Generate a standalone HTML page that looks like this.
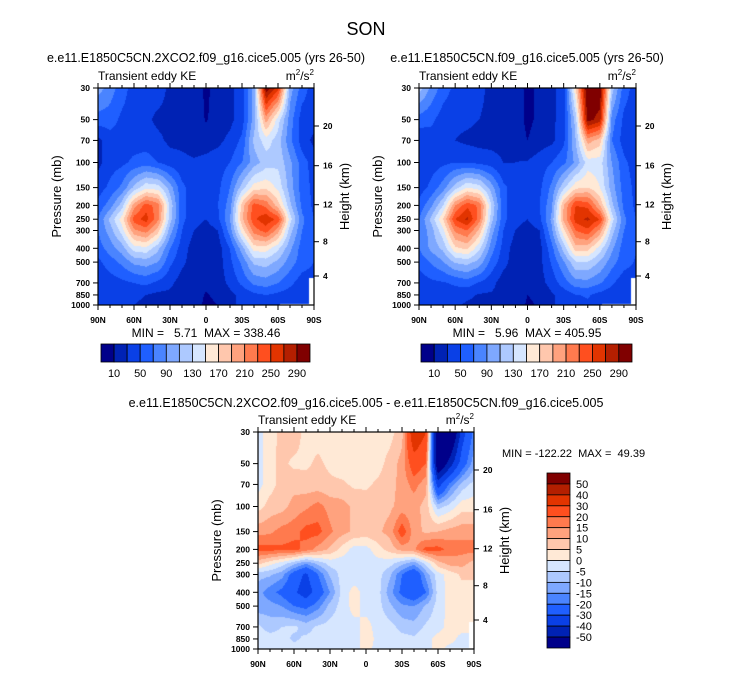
<!DOCTYPE html>
<html><head><meta charset="utf-8">
<style>
body{margin:0;background:#fff;}
#wrap{position:relative;width:733px;height:673px;overflow:hidden;background:#fff;font-family:"Liberation Sans",sans-serif;}
canvas{position:absolute;}
svg{position:absolute;left:0;top:0;}
svg text{white-space:pre;}
</style></head>
<body>
<div id="wrap">
<canvas id="c1" width="216" height="217" style="left:98px;top:88px"></canvas>
<canvas id="c2" width="217" height="217" style="left:419px;top:88px"></canvas>
<canvas id="c3" width="216" height="217" style="left:258px;top:432px"></canvas>
<svg id="ov" width="733" height="673"></svg>
</div>
<script>
// ---- data ----
const pressures=[30,50,70,100,150,200,250,300,400,500,700,850,1000];
const latLabels=["90N","60N","30N","0","30S","60S","90S"];
const pTickLabels=[30,50,70,100,150,200,250,300,400,500,700,850,1000];
const heightTicks=[20,16,12,8,4];
const heightOffsets=[38,77.7,116.7,153.7,188];
const levelsKE=[10,30,50,70,90,110,130,150,170,190,210,230,250,270,290];
const levelsDiff=[-50,-40,-30,-20,-15,-10,-5,0,5,10,15,20,30,40,50];
const palette=["#00008a","#0022b4","#0a40e6","#1f5fff","#4a84ff","#7ea8ff","#adc9ff","#d6e6ff","#ffe9d6","#ffc7ad","#ffa27e","#ff7a4e","#ff4f1f","#e23400","#b41f00","#800000"];

const ke1=[
[100,80,60,40,40,40,25,25,25,5,20,25,40,100,305,260,100,60,40],
[60,60,45,40,35,25,25,28,25,8,20,25,40,100,200,140,80,40,40],
[25,40,40,40,40,35,25,25,22,22,25,35,55,115,140,120,75,40,25],
[25,40,45,55,60,50,40,35,32,35,40,50,70,100,120,125,95,60,40],
[40,55,75,115,145,140,100,55,40,38,45,70,120,160,165,145,100,60,45],
[55,80,120,200,240,220,125,55,40,38,50,80,180,240,225,180,115,65,45],
[70,115,160,240,260,215,120,55,38,30,45,90,185,245,265,245,140,75,50],
[70,100,140,205,220,180,100,50,30,20,30,80,160,220,240,200,120,70,55],
[60,80,100,140,145,115,70,40,20,15,20,50,100,160,160,135,95,60,55],
[45,60,75,95,100,90,55,35,20,15,20,45,75,115,120,105,80,60,50],
[35,40,45,50,55,45,35,20,20,15,20,35,55,75,80,70,55,40,40],
[30,35,40,35,30,25,25,20,20,8,15,25,35,45,50,45,40,35,35],
[30,30,30,30,25,25,25,20,20,5,10,25,35,40,45,40,35,30,30]];
const ke2=[
[120,85,60,45,40,35,25,22,20,5,15,25,40,170,320,310,120,60,40],
[60,55,40,35,35,30,25,25,22,5,15,25,40,120,300,280,80,45,40],
[35,40,40,30,25,22,22,22,20,10,20,25,45,110,200,180,70,40,30],
[30,40,45,50,50,45,40,30,30,32,40,50,65,95,140,140,90,55,40],
[40,55,80,120,150,140,100,55,40,40,45,75,125,165,170,150,100,60,45],
[55,85,130,210,245,225,130,55,40,38,50,85,190,250,245,190,115,65,45],
[70,115,170,250,275,220,120,55,38,30,45,95,195,260,275,250,140,75,50],
[70,100,145,215,230,185,100,50,30,20,30,85,165,230,245,205,120,70,55],
[70,95,115,165,175,135,80,42,20,15,22,62,118,182,178,140,95,58,52],
[57,72,88,113,118,102,62,38,18,17,23,53,87,128,128,108,78,58,48],
[38,45,48,53,60,48,38,18,22,17,22,38,60,82,83,72,53,38,38],
[33,38,43,40,34,28,27,22,22,10,14,27,38,49,52,43,38,37,37],
[32,32,32,33,27,27,27,22,22,7,12,27,37,42,47,42,37,32,32]];
const diff=[
[-2,2.5,7,8,3,3,2,2,2,2,2,3,8,40,30,-70,-70,-35,-18],
[-3,4,6,4,4,6,4,2,2,2,3,7,12,25,20,-65,-45,-25,-12],
[-2,3,7,8,7,7,6,6,4,4,6,8,12,17,12,-35,-18,-8,-3],
[3,7,8,12,14,17,13,12,9,8,8,9,12,12,8,-7,-3,3,3],
[13,14,17,18,22,22,16,12,9,8,9,12,24,12,9,10,12,13,13],
[22,22,21,22,18,13,9,3,-2,-2,3,7,12,14,22,22,18,17,17],
[7,2,-2,-8,-14,-8,-3,-3,-3,-3,-2,-3,-8,-13,-3,8,12,12,8],
[-8,-9,-13,-24,-32,-20,-9,-3,-3,-3,-3,-9,-20,-28,-13,-2,2,6,6],
[-13,-18,-22,-28,-36,-25,-15,-3,2,-2,-3,-13,-22,-28,-20,-3,2,3,3],
[-13,-13,-15,-20,-22,-17,-8,-3,2,-2,-3,-9,-14,-15,-9,-3,2,2,2],
[-4,-7,-5,-4,-7,-4,-3,-2,-2,2,-2,-3,-7,-8,-4,-2,2,2,2],
[-3,-3,-3,-6,-4,-3,-2,-2,-2,2,-1,-2,-3,-4,-2,2,2,-2,-2],
[-2,-2,-2,-3,-2,-2,-2,-2,-2,2,-2,-2,-2,-2,-2,2,-2,-2,-2]];

// ---- helpers ----
const PH=217, LN=Math.log(1000/30);
function yOfP(p){return PH*Math.log(p/30)/LN;}
function hexRGB(h){return [parseInt(h.slice(1,3),16),parseInt(h.slice(3,5),16),parseInt(h.slice(5,7),16)];}
const palRGB=palette.map(hexRGB);
function drawField(id,grid,levels,mask){
  const cv=document.getElementById(id),ctx=cv.getContext('2d');
  const W=cv.width,H=cv.height,img=ctx.createImageData(W,H);
  const lp=pressures.map(p=>Math.log(p));
  for(let y=0;y<H;y++){
    const L=Math.log(30)+(y+0.5)/H*LN;
    let r=0;while(r<pressures.length-2&&L>lp[r+1])r++;
    const t=Math.min(1,Math.max(0,(L-lp[r])/(lp[r+1]-lp[r])));
    const p=Math.exp(L);
    for(let x=0;x<W;x++){
      const u=(x+0.5)/W*18;let c=Math.min(17,Math.floor(u));const s=u-c;
      const v=(grid[r][c]*(1-s)+grid[r][c+1]*s)*(1-t)+(grid[r+1][c]*(1-s)+grid[r+1][c+1]*s)*t;
      let k=0;while(k<levels.length&&v>=levels[k])k++;
      let col=palRGB[k];
      const lat=-90+(1-(x+0.5)/W)*180;
      if(mask&&((lat<-86&&p>650)||(lat<-62&&p>985)))col=[255,255,255];
      const i=(y*W+x)*4;img.data[i]=col[0];img.data[i+1]=col[1];img.data[i+2]=col[2];img.data[i+3]=255;
    }
  }
  ctx.putImageData(img,0,0);
}
drawField('c1',ke1,levelsKE,true);
drawField('c2',ke2,levelsKE,true);
drawField('c3',diff,levelsDiff,true);

const NS="http://www.w3.org/2000/svg",ov=document.getElementById('ov');
function el(tag,attrs,txt){const e=document.createElementNS(NS,tag);for(const k in attrs)e.setAttribute(k,attrs[k]);if(txt!==undefined)e.textContent=txt;ov.appendChild(e);return e;}
function text(x,y,s,size,anchor,name,extra){
  const e=el('text',Object.assign({x:x,y:y,'font-size':size,'text-anchor':anchor||'start','font-family':'Liberation Sans, sans-serif',fill:'#000'},extra||{}),s);
  
  
  return e;
}
function line(x1,y1,x2,y2,w){return el('line',{x1:x1,y1:y1,x2:x2,y2:y2,stroke:'#000','stroke-width':w||1});}

function axes(x0,y0,W,pfx){
  const g=el('rect',{x:x0,y:y0,width:W,height:PH,fill:'none',stroke:'#000','stroke-width':1.2});
  
  
  pTickLabels.forEach(p=>{const y=y0+yOfP(p);line(x0-5,y,x0,y);
    text(x0-8,y+3,String(p),8.5,'end',pfx+'-y-tick-label',{'font-weight':'bold'});});
  for(let i=0;i<=18;i++){const x=x0+W*i/18,len=(i%3==0)?5:3;line(x,y0+PH,x,y0+PH+len);line(x,y0,x,y0-len);}
  latLabels.forEach((s,i)=>text(x0+W*i/6,y0+PH+18,s,8.5,'middle',pfx+'-x-tick-label',{'font-weight':'bold'}));
  heightTicks.forEach((h,i)=>{const y=y0+heightOffsets[i];line(x0+W,y,x0+W+5,y);
    text(x0+W+9,y+3,String(h),8.5,'start',pfx+'-height-tick-label',{'font-weight':'bold'});});
  text(0,0,'Pressure (mb)',13,'middle',pfx+'-y-axis-title',{transform:`translate(${x0-37},${y0+PH/2}) rotate(-90)`});
  text(0,0,'Height (km)',13,'middle',pfx+'-height-axis-title',{transform:`translate(${x0+W+35},${y0+PH/2}) rotate(-90)`});
  text(x0,y0-8,'Transient eddy KE',12,'start',pfx+'-variable-label');
  const u=text(x0+W,y0-8,'',12,'end',pfx+'-units-label');
  u.innerHTML='m<tspan dy="-5" font-size="8">2</tspan><tspan dy="5">/s</tspan><tspan dy="-5" font-size="8">2</tspan>';
}
axes(98,88,216,'top-left');
axes(419,88,217,'top-right');
axes(258,432,216,'bottom');

text(366,35,'SON',18,'middle','figure-title');
text(206,62,'e.e11.E1850C5CN.2XCO2.f09_g16.cice5.005 (yrs 26-50)',12.5,'middle','left-panel-title');
text(527,62,'e.e11.E1850C5CN.f09_g16.cice5.005 (yrs 26-50)',12.5,'middle','right-panel-title');
text(366,407,'e.e11.E1850C5CN.2XCO2.f09_g16.cice5.005 - e.e11.E1850C5CN.f09_g16.cice5.005',12.5,'middle','difference-panel-title');
text(206,337,'MIN =   5.71  MAX = 338.46',12,'middle','left-min-max');
text(527,337,'MIN =   5.96  MAX = 405.95',12,'middle','right-min-max');
text(502,457,'MIN = -122.22  MAX =  49.39',11,'start','difference-min-max');

function hbar(x0,y0,W,H,pfx){
  const bw=W/16;
  palette.forEach((c,i)=>{const r=el('rect',{x:x0+i*bw,y:y0,width:bw,height:H,fill:c,stroke:'#000','stroke-width':0.8});
    
    });
  levelsKE.forEach((v,i)=>{if(i%2==0)text(x0+(i+1)*bw,y0+H+15,String(v),11,'middle',pfx+'-colorbar-label');});
}
hbar(101,344,209,18,'left');
hbar(421,344,211,18,'right');
(function(){
  const x0=547,y0=473,W=23,H=175,bh=H/16;
  palette.slice().reverse().forEach((c,i)=>{const r=el('rect',{x:x0,y:y0+i*bh,width:W,height:bh,fill:c,stroke:'#000','stroke-width':0.8});
    
    });
  levelsDiff.slice().reverse().forEach((v,i)=>text(x0+W+6,y0+(i+1)*bh+4,String(v),11,'start','difference-colorbar-label'));
})();
</script>
</body></html>
